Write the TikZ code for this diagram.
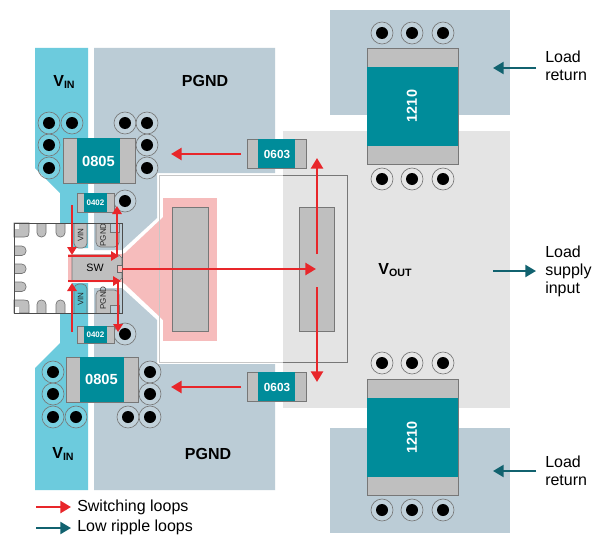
\documentclass[tikz,border=0pt]{standalone}
\usepackage{fontspec}
\setmainfont{Liberation Sans}
\usepackage{tikz}
\usetikzlibrary{arrows.meta}
\definecolor{vincyan}{HTML}{6CCBDD}
\definecolor{gndblue}{HTML}{BBCCD6}
\definecolor{outgray}{HTML}{E4E4E4}
\definecolor{padgray}{HTML}{BFBFBF}
\definecolor{edgegray}{HTML}{777777}
\definecolor{capteal}{HTML}{008C9A}
\definecolor{loopred}{HTML}{E8262A}
\definecolor{ripteal}{HTML}{11626F}
\definecolor{traceink}{HTML}{F6BCBC}
\newcommand{\railname}[2]{#1\raisebox{-0.2ex}{\footnotesize #2}}
\tikzset{
	via/.style={draw=edgegray,line width=0.5pt,fill=white,fill opacity=0.1},
	viahole/.style={fill=black},
	padbox/.style={draw=edgegray,line width=0.6pt,fill=padgray},
	capbody/.style={fill=capteal},
	caplabel/.style={text=white,font=\bfseries,inner sep=0pt},
	railtext/.style={font=\bfseries\fontsize{12}{14}\selectfont,inner sep=0pt},
	sidetext/.style={font=\fontsize{12}{13.5}\selectfont,align=left,anchor=west,inner sep=0pt},
	pintext/.style={font=\fontsize{6}{7}\selectfont,rotate=90,inner sep=0pt,text=black!85},
	qfnpin/.style={draw=black!55,line width=0.5pt,fill=padgray},
	redloop/.style={draw=loopred,line width=2pt,-{Triangle[length=8pt,width=9pt]}},
	redsmall/.style={draw=loopred,line width=2pt,-{Triangle[length=6pt,width=7pt]}},
	tealloop/.style={draw=ripteal,line width=1.6pt,-{Triangle[length=8pt,width=9pt]}}
}
\begin{document}
\begin{tikzpicture}[x=0.75pt,y=-0.75pt]
	\useasboundingbox (0,0) rectangle (592,535);
	\fill[white] (0,0) rectangle (592,535);
	\fill[vincyan] (35,48) -- (88,48) -- (88,248) -- (72,248) -- (72,223) -- (60,223) -- (60,193) -- (35,168) -- cycle;
	\fill[vincyan] (35,490) -- (88,490) -- (88,283) -- (72,283) -- (72,313) -- (60,313) -- (60,343) -- (35,368) -- cycle;
	\fill[gndblue] (94,48) -- (275,48) -- (275,173) -- (157,173) -- (157,218) -- (122,250) -- (94,250) -- cycle;
	\fill[gndblue] (94,490) -- (275,490) -- (275,364) -- (157,364) -- (157,320) -- (122,288) -- (94,288) -- cycle;
	\fill[gndblue] (330,10) rectangle (510,115);
	\fill[gndblue] (330,428) rectangle (510,533);
	\fill[outgray] (283,131) rectangle (510,408);
	\fill[white] (159,175) rectangle (283,362);
	\fill[traceink] (68,254) -- (122,254) -- (125,253) -- (160,220) -- (163,217) -- (163,320) -- (160,317) -- (125,284) -- (122,282) -- (68,282) -- cycle;
	\fill[traceink] (163,198) rectangle (217,341);
	\draw[line width=0.6pt,draw=black!22] (283,175) -- (159,175) -- (159,362) -- (283,362);
	\draw[line width=0.7pt,draw=edgegray] (283,175) -- (347,175) -- (347,362) -- (283,362);
	\draw[padbox] (172,207) rectangle (208,331);
	\draw[padbox] (299,207) rectangle (334,331);
	% package pins
	\foreach \px in {37,56} {
		\draw[qfnpin,rounded corners=3.2pt] (\px,223) -- (\px,237) -- (\px+9,237) -- (\px+9,223);
		\draw[qfnpin,rounded corners=3.2pt] (\px,313) -- (\px,300) -- (\px+9,300) -- (\px+9,313);
	}
	\foreach \py in {246,264,282}
		\draw[qfnpin,rounded corners=3.2pt] (14,\py) -- (26,\py) -- (26,\py+9.5) -- (14,\py+9.5);
	\draw[qfnpin] (14,223) -- (29,223) -- (29,232) .. controls (29,237) and (27,237) .. (24,237) -- (14,237) -- cycle;
	\draw[qfnpin] (14,313) -- (29,313) -- (29,305) .. controls (29,300) and (27,300) .. (24,300) -- (14,300) -- cycle;
	\fill[white] (14,223) rectangle (19,229);
	\fill[white] (14,307) rectangle (19,313);
	\draw[qfnpin,rounded corners=3.5pt] (74,223) -- (74,248) -- (87,248) -- (87,223);
	\draw[qfnpin,rounded corners=3.5pt,fill=vincyan!85!teal] (74,313) -- (74,284) -- (87,284) -- (87,313);
	\draw[qfnpin,rounded corners=3.5pt] (96,223) -- (96,247) -- (119,247) -- (119,223);
	\draw[qfnpin,rounded corners=3.5pt] (96,313) -- (96,290) -- (119,290) -- (119,313);
	\draw[qfnpin,fill=gndblue] (110,223) rectangle (119,232);
	\draw[qfnpin,fill=gndblue] (110,305) rectangle (119,313);
	\node[pintext] (pinvinup) at (80.5,235) {VIN};
	\node[pintext] (pinvindown) at (80.5,299) {VIN};
	\node[pintext] (pingndup) at (103,235) {PGND};
	\node[pintext] (pingnddown) at (103,298) {PGND};
	\draw[line width=0.7pt,draw=black!70] (14,223) rectangle (122,313);
	\draw[qfnpin] (72,255) -- (119,255) -- (122,258) -- (122,278) -- (119,281) -- (72,281) -- cycle;
	\draw[line width=0.5pt,draw=black!60,fill=traceink] (117,265) rectangle (122,272);
	\node[inner sep=0pt,font=\fontsize{8}{9}\selectfont] (swlabel) at (95,268) {SW};
	% vias
	\foreach \vx/\vy in {49/123,72/123,49/145,49/168,125/123,147/123,147/145,147/168,125/201,125/334,
		53/372,53/394,53/417,76/417,150/372,150/394,150/417,128/417,
		382/33,412/33,443/33,382/179,412/179,443/179,382/363,412/363,443/363,382/510,412/510,443/510} {
		\draw[via] (\vx,\vy) circle (11);
		\fill[viahole] (\vx,\vy) circle (6);
	}
	% capacitors
	\draw[padbox] (63,138) rectangle (135,183);
	\fill[capbody] (77,138) rectangle (120,183);
	\draw[padbox] (66,357) rectangle (138,402);
	\fill[capbody] (80,357) rectangle (124,402);
	\draw[padbox] (77,193) rectangle (114,212);
	\fill[capbody] (84,193) rectangle (107,212);
	\draw[padbox] (77,326) rectangle (114,343);
	\fill[capbody] (84,326) rectangle (107,343);
	\draw[padbox] (247,139) rectangle (306,168);
	\fill[capbody] (258,139) rectangle (295,168);
	\draw[padbox] (247,372) rectangle (306,401);
	\fill[capbody] (258,372) rectangle (295,401);
	\draw[padbox] (367,48) rectangle (458,164);
	\fill[capbody] (367,67) rectangle (458,146);
	\draw[padbox] (367,379) rectangle (458,495);
	\fill[capbody] (367,398) rectangle (458,477);
	\node[caplabel,font=\bfseries\fontsize{11}{12}\selectfont] (capinup) at (98.5,161) {0805};
	\node[caplabel,font=\bfseries\fontsize{11}{12}\selectfont] (capindown) at (101.5,379) {0805};
	\node[caplabel,font=\bfseries\fontsize{6}{7}\selectfont] (capsmallup) at (95.5,203) {0402};
	\node[caplabel,font=\bfseries\fontsize{6}{7}\selectfont] (capsmalldown) at (95.5,335) {0402};
	\node[caplabel,font=\bfseries\fontsize{8.8}{10}\selectfont] (capmidup) at (277,154) {0603};
	\node[caplabel,font=\bfseries\fontsize{8.8}{10}\selectfont] (capmiddown) at (277,387) {0603};
	\node[caplabel,rotate=90,font=\bfseries\fontsize{10.8}{12}\selectfont] (capoutup) at (412,106) {1210};
	\node[caplabel,rotate=90,font=\bfseries\fontsize{10.8}{12}\selectfont] (capoutdown) at (412,437) {1210};
	% rail names
	\node[railtext] (vinup) at (64,82) {\railname{V}{IN}};
	\node[railtext] (vindown) at (63,454) {\railname{V}{IN}};
	\node[railtext] (gndup) at (205,81) {PGND};
	\node[railtext] (gnddown) at (208,454) {PGND};
	\node[railtext] (vout) at (395,270) {\railname{V}{OUT}};
	\node[sidetext] (retup) at (545,66) {Load\\return};
	\node[sidetext] (retdown) at (545,471) {Load\\return};
	\node[sidetext] (supply) at (545,271) {Load\\supply\\input};
	% loops
	\coordinate (swout) at (122,269);
	\coordinate (padmid) at (316,269);
	\coordinate (padup) at (317,254);
	\coordinate (paddown) at (317,287);
	\coordinate (capmidupend) at (317,158);
	\coordinate (capmiddownend) at (317,382);
	\draw[redloop] (swout) -- (padmid);
	\draw[redloop] (padup) -- (capmidupend);
	\draw[redloop] (paddown) -- (capmiddownend);
	\draw[redloop] (241,154) -- (171,154);
	\draw[redloop] (241,387) -- (171,387);
	\draw[redsmall] (72,205) -- (72,255);
	\draw[redsmall] (72,332) -- (72,283);
	\draw[redsmall] (68,256) -- (119,256);
	\draw[redsmall] (68,281) -- (121,281);
	\draw[redsmall] (117,256) -- (117,206);
	\draw[redsmall] (118,281) -- (118,332);
	\draw[tealloop] (536,68) -- (493,68);
	\draw[tealloop] (536,471) -- (493,471);
	\draw[tealloop] (493,271) -- (536,271);
	% legend
	\coordinate (keyredfrom) at (36,507);
	\coordinate (keyredto) at (71,507);
	\coordinate (keytealfrom) at (36,528);
	\coordinate (keytealto) at (71,528);
	\node[sidetext] (keyred) at (77,507) {Switching loops};
	\node[sidetext] (keyteal) at (77,527) {Low ripple loops};
	\draw[redloop] (keyredfrom) -- (keyredto);
	\draw[tealloop] (keytealfrom) -- (keytealto);
\end{tikzpicture}
\end{document}
